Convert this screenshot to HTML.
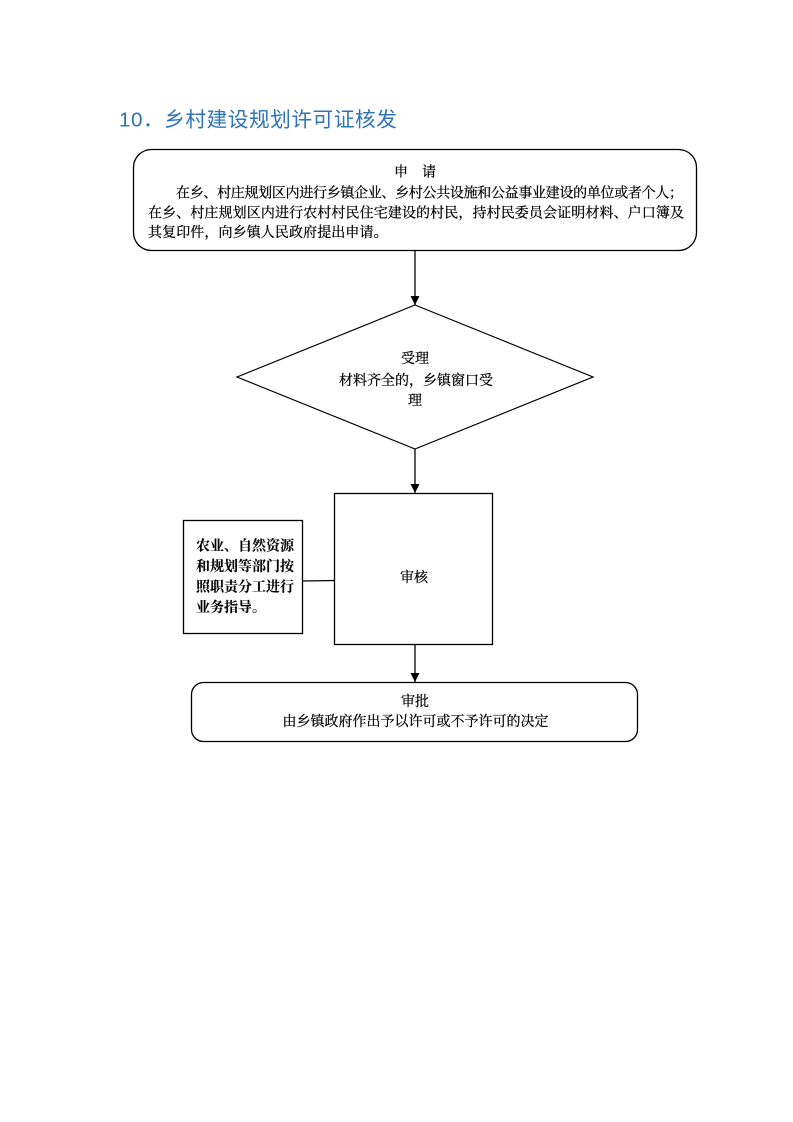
<!DOCTYPE html>
<html>
<head>
<meta charset="utf-8">
<style>
  html, body { margin: 0; padding: 0; background: #ffffff; }
  body { width: 793px; height: 1122px; overflow: hidden; }
  svg { display: block; }
  .t { font-family: "Liberation Serif", "Noto Serif CJK SC", serif; font-size: 14px; fill: #000; stroke: #000; stroke-width: 0.25px; }
  .b { font-weight: bold; stroke-width: 0.1px; }
  .title { font-family: "Liberation Sans", "Noto Sans CJK SC", sans-serif; font-size: 20.7px; fill: #2E74B5; }
</style>
</head>
<body>
<svg width="793" height="1122" viewBox="0 0 793 1122" xmlns="http://www.w3.org/2000/svg">
  <defs>
    <marker id="ah" markerWidth="10" markerHeight="10" refX="9" refY="5" orient="auto" markerUnits="userSpaceOnUse">
      <path d="M0,0.5 L9,5 L0,9.5 Z" fill="#000"/>
    </marker>
  </defs>

  <!-- Title -->
  <text class="title" x="119" y="126.5" letter-spacing="0.5">10．乡村建设规划许可证核发</text>

  <!-- Box 1: application -->
  <rect x="133.5" y="149.5" width="563" height="101" rx="18" ry="18" fill="#fff" stroke="#000" stroke-width="1.3"/>
  <text class="t" x="415" y="176.5" text-anchor="middle">申　请</text>
  <text class="t" x="176" y="197.5" textLength="507" lengthAdjust="spacing">在乡、村庄规划区内进行乡镇企业、乡村公共设施和公益事业建设的单位或者个人；</text>
  <text class="t" x="148" y="217.5" textLength="536" lengthAdjust="spacing">在乡、村庄规划区内进行农村村民住宅建设的村民，持村民委员会证明材料、户口簿及</text>
  <text class="t" x="148" y="237" letter-spacing="0.1">其复印件，向乡镇人民政府提出申请。</text>

  <!-- Arrow 1 -->
  <line x1="415" y1="251" x2="415" y2="305" stroke="#000" stroke-width="1.3" marker-end="url(#ah)"/>

  <!-- Diamond -->
  <polygon points="415,305 593,377 415,449 237,377" fill="#fff" stroke="#000" stroke-width="1.2"/>
  <text class="t" x="415" y="363" text-anchor="middle">受理</text>
  <text class="t" x="416" y="385" text-anchor="middle">材料齐全的，乡镇窗口受</text>
  <text class="t" x="415" y="405" text-anchor="middle">理</text>

  <!-- Arrow 2 -->
  <line x1="415" y1="449" x2="415" y2="493" stroke="#000" stroke-width="1.3" marker-end="url(#ah)"/>

  <!-- Review rect -->
  <rect x="334.5" y="493.5" width="158" height="151" fill="#fff" stroke="#000" stroke-width="1.3"/>
  <text class="t" x="414" y="582" text-anchor="middle">审核</text>

  <!-- Side box -->
  <rect x="183.5" y="520.5" width="119" height="113" fill="#fff" stroke="#000" stroke-width="1.3"/>
  <text class="t b" x="196" y="550.5">农业、自然资源</text>
  <text class="t b" x="196" y="571">和规划等部门按</text>
  <text class="t b" x="196" y="591.5">照职责分工进行</text>
  <text class="t b" x="196" y="612">业务指导。</text>

  <!-- connector side box to review -->
  <line x1="303" y1="581" x2="334.5" y2="580.5" stroke="#000" stroke-width="1.2"/>

  <!-- Arrow 3 -->
  <line x1="415" y1="645" x2="415" y2="682" stroke="#000" stroke-width="1.3" marker-end="url(#ah)"/>

  <!-- Approval box -->
  <rect x="191.5" y="682.5" width="446" height="59" rx="12" ry="12" fill="#fff" stroke="#000" stroke-width="1.3"/>
  <text class="t" x="415" y="706" text-anchor="middle">审批</text>
  <text class="t" x="415.5" y="726" text-anchor="middle">由乡镇政府作出予以许可或不予许可的决定</text>
</svg>
</body>
</html>
